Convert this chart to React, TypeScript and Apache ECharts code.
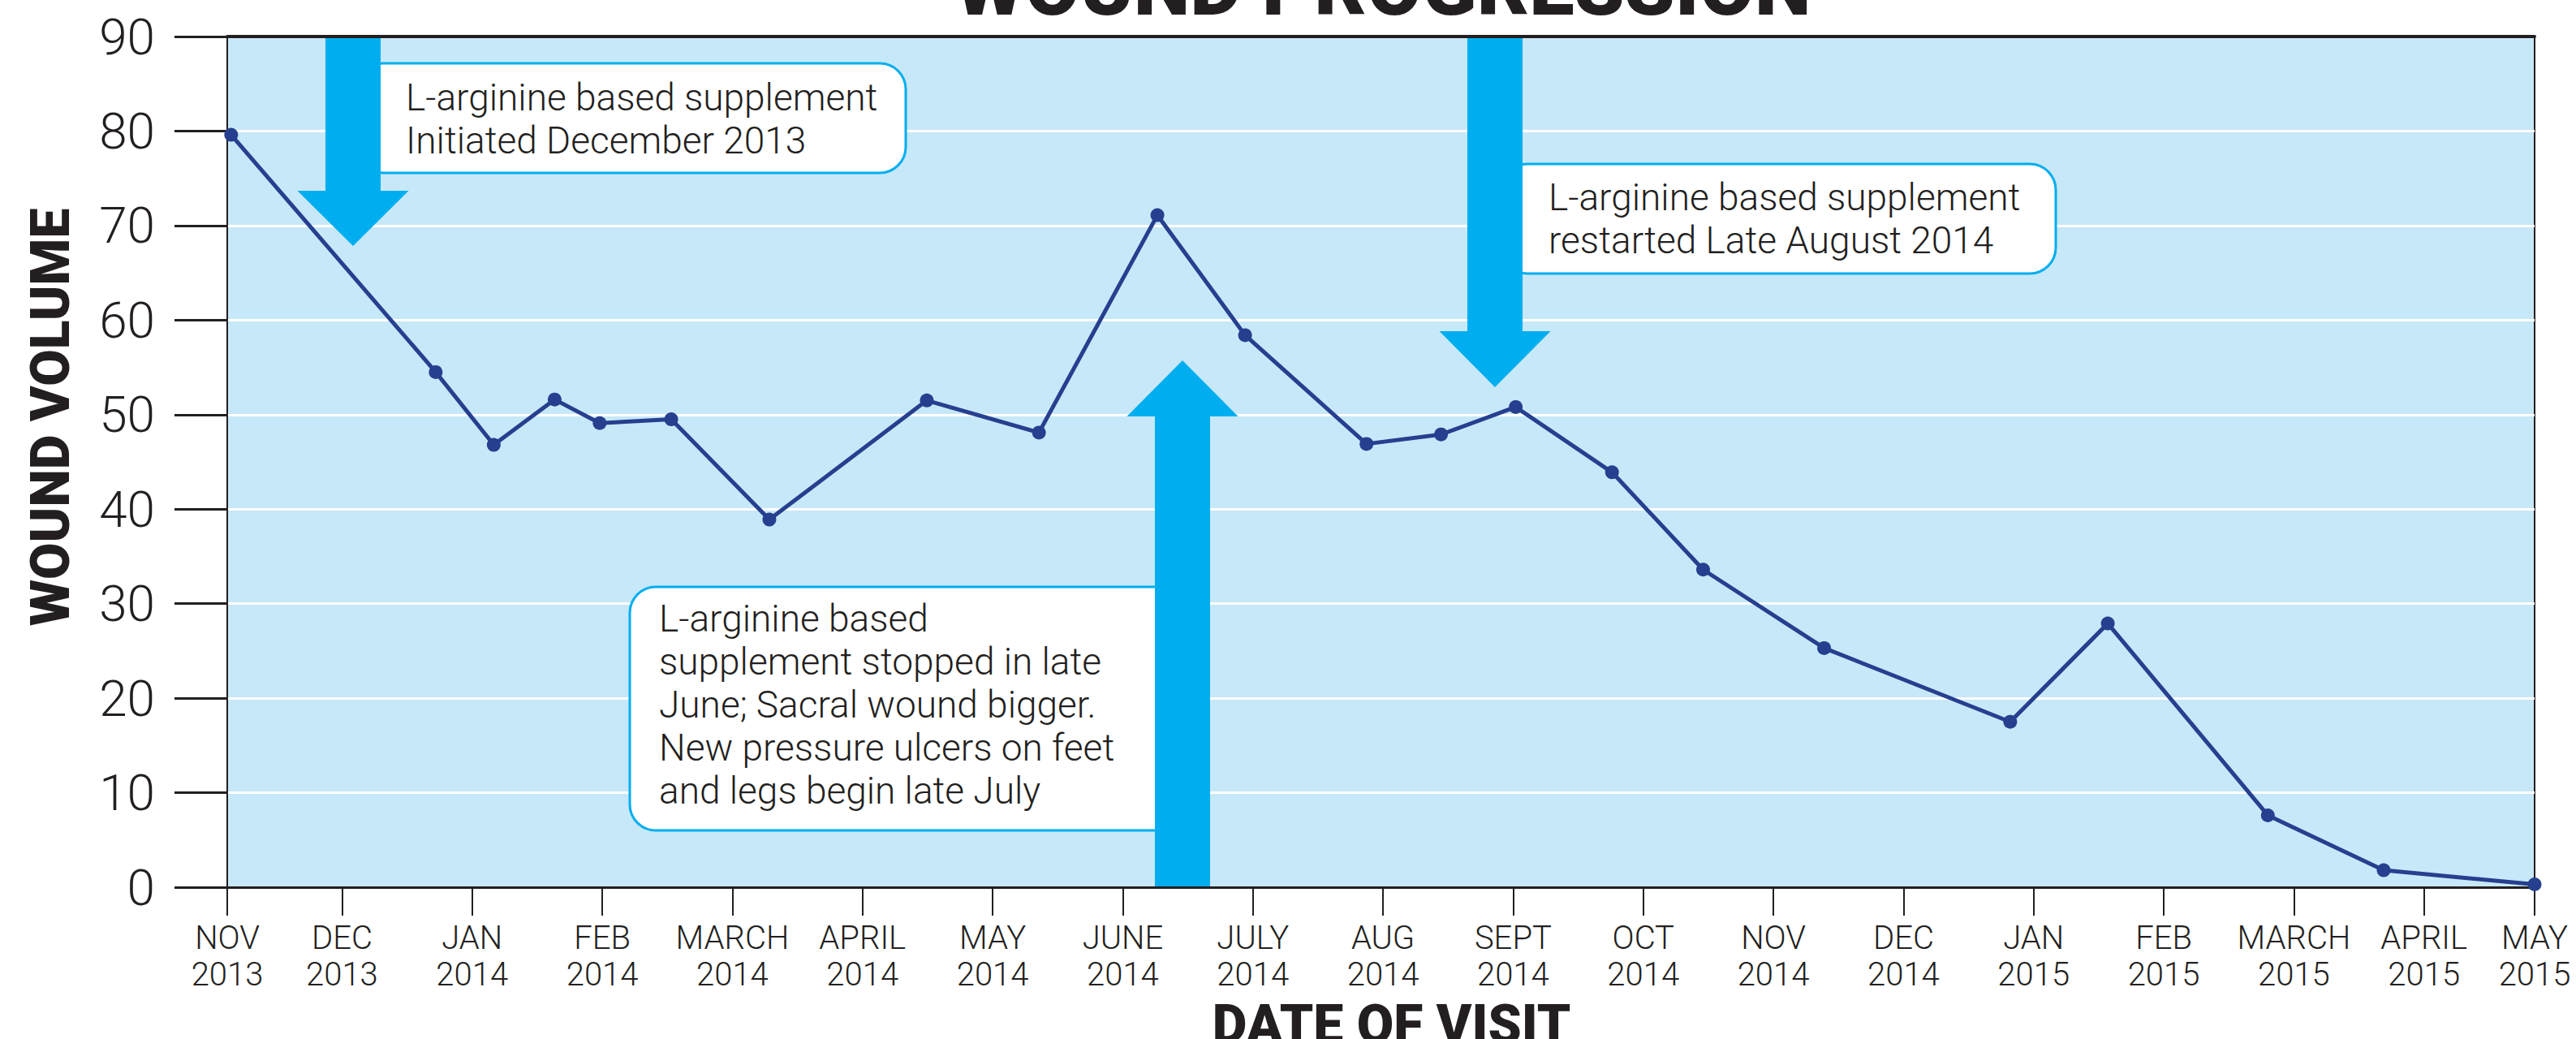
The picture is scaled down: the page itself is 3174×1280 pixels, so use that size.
import React, { useEffect, useRef } from "react";
import * as echarts from "echarts";

// Month tick labels (x axis)
const monthLabels = [
  "NOV\n2013", "DEC\n2013", "JAN\n2014", "FEB\n2014", "MARCH\n2014", "APRIL\n2014",
  "MAY\n2014", "JUNE\n2014", "JULY\n2014", "AUG\n2014", "SEPT\n2014", "OCT\n2014",
  "NOV\n2014", "DEC\n2014", "JAN\n2015", "FEB\n2015", "MARCH\n2015", "APRIL\n2015", "MAY\n2015",
];

// Visit position, in months counted from the November 2013 tick
const visitMonth = [
  0.148, 1.72, 2.166, 2.634, 2.98, 3.53, 4.284, 5.494, 6.356, 7.266, 7.94,
  8.873, 9.446, 10.02, 10.76, 11.46, 12.39, 13.82, 14.57, 15.8, 16.69, 17.85,
];

// Wound volume at each visit
const woundVolume = [
  79.6, 54.5, 46.8, 51.6, 49.1, 49.5, 38.9, 51.5, 48.1, 71.1, 58.4,
  46.9, 47.9, 50.8, 43.9, 33.6, 25.3, 17.5, 27.9, 7.6, 1.8, 0.3,
];

const xMin = 0.118;
const xMax = 17.85;

const noteStart = "L-arginine based supplement\nInitiated December 2013";
const noteRestart = "L-arginine based supplement\nrestarted Late August 2014";
const noteStop =
  "L-arginine based\nsupplement stopped in late\nJune; Sacral wound bigger.\nNew pressure ulcers on feet\nand legs begin late July";

const INK = "#231f20";
const ARROW = "#00aeef";
const LINE = "#263f8f";
const PLOT_BG = "#c7e8f8";

function downArrow(cx: number, top: number, base: number, tip: number) {
  return [
    [cx - 34, top], [cx + 34, top], [cx + 34, base], [cx + 68.5, base],
    [cx, tip], [cx - 68.5, base], [cx - 34, base],
  ];
}
function upArrow(cx: number, bottom: number, base: number, tip: number) {
  return [
    [cx - 34, bottom], [cx + 34, bottom], [cx + 34, base], [cx + 68.5, base],
    [cx, tip], [cx - 68.5, base], [cx - 34, base],
  ];
}

export default function App() {
  const ref = useRef<HTMLDivElement>(null);

  useEffect(() => {
    document.body.style.margin = "0";
    document.body.style.overflow = "hidden";
    const chart = echarts.init(ref.current!, null, { renderer: "svg" });

    const tickValues = monthLabels.map((_, i) =>
      i === 0 ? xMin : i === monthLabels.length - 1 ? xMax : i
    );
    const noteFont = {
      fontFamily: "Roboto",
      fontWeight: 300,
      fontSize: 46,
      lineHeight: 53,
      fill: INK,
    };
    const box = (x: number, y: number, w: number, h: number) => ({
      type: "rect",
      z: 10,
      shape: { x, y, width: w, height: h, r: 32 },
      style: { fill: "#ffffff", stroke: ARROW, lineWidth: 3 },
    });

    chart.setOption({
      animation: false,
      backgroundColor: "#ffffff",
      grid: {
        left: 280,
        right: 51,
        top: 45,
        bottom: 187,
        containLabel: false,
        outerBoundsMode: "none",
        show: true,
        backgroundColor: PLOT_BG,
        borderColor: INK,
        borderWidth: 2,
      },
      xAxis: [
        {
          type: "value",
          min: xMin,
          max: xMax,
          position: "bottom",
          axisLine: { show: true, onZero: false, lineStyle: { color: INK, width: 3 } },
          axisTick: {
            show: true,
            customValues: tickValues,
            length: 35,
            lineStyle: { color: INK, width: 2 },
          },
          axisLabel: {
            customValues: tickValues,
            formatter: (v: number) => monthLabels[Math.round(v)] ?? "",
            fontFamily: "Roboto",
            fontWeight: 300,
            fontSize: 40,
            lineHeight: 45,
            margin: 40,
            color: INK,
            hideOverlap: false,
          },
          splitLine: { show: false },
          name: "DATE OF VISIT",
          nameLocation: "middle",
          nameGap: 136,
          nameTextStyle: {
            fontFamily: "Roboto",
            fontWeight: 900,
            fontSize: 66,
            lineHeight: 66,
            color: INK,
            padding: [0, 0, 0, 26],
          },
        },
        {
          type: "value",
          min: xMin,
          max: xMax,
          position: "top",
          axisLine: { show: true, onZero: false, lineStyle: { color: INK, width: 4 } },
          axisTick: { show: false },
          axisLabel: { show: false },
          splitLine: { show: false },
        },
      ],
      yAxis: {
        type: "value",
        min: 0,
        max: 90,
        interval: 10,
        axisLine: { show: true, lineStyle: { color: INK, width: 2 } },
        axisTick: { show: true, length: 65, lineStyle: { color: INK, width: 3 } },
        axisLabel: {
          fontFamily: "Roboto",
          fontWeight: 300,
          fontSize: 62,
          margin: 24,
          padding: [0, 65, 0, 0],
          color: INK,
        },
        splitLine: { show: true, lineStyle: { color: "#ffffff", width: 3 } },
      },
      series: [
        {
          type: "line",
          data: visitMonth.map((m, i) => [m, woundVolume[i]]),
          symbol: "circle",
          symbolSize: 17,
          clip: false,
          z: 5,
          lineStyle: { color: LINE, width: 5 },
          itemStyle: { color: LINE },
        },
      ],
      graphic: [
        {
          type: "text",
          x: 1704,
          y: -16,
          style: {
            text: "WOUND PROGRESSION",
            fontFamily: "Roboto",
            fontWeight: 900,
            fontSize: 99,
            fill: INK,
            align: "center",
            verticalAlign: "middle",
          },
        },
        {
          type: "text",
          x: 62,
          y: 514,
          rotation: Math.PI / 2,
          style: {
            text: "WOUND VOLUME",
            fontFamily: "Roboto",
            fontWeight: 900,
            fontSize: 66,
            fill: INK,
            align: "center",
            verticalAlign: "middle",
          },
        },
        box(440, 78, 676, 135),
        box(1850, 202, 683, 135),
        box(776, 723, 680, 300),
        { type: "polygon", z: 11, shape: { points: downArrow(435, 47, 235, 303) }, style: { fill: ARROW } },
        { type: "polygon", z: 11, shape: { points: downArrow(1842, 47, 408, 477) }, style: { fill: ARROW } },
        { type: "polygon", z: 11, shape: { points: upArrow(1457, 1092, 513, 444) }, style: { fill: ARROW } },
        { type: "text", z: 12, x: 500, y: 93.5, style: { text: noteStart, ...noteFont, verticalAlign: "top" } },
        { type: "text", z: 12, x: 1908, y: 216.5, style: { text: noteRestart, ...noteFont, verticalAlign: "top" } },
        { type: "text", z: 12, x: 812, y: 735.5, style: { text: noteStop, ...noteFont, verticalAlign: "top" } },
      ],
    });

    return () => chart.dispose();
  }, []);

  return <div ref={ref} style={{ width: 3174, height: 1280 }} />;
}
